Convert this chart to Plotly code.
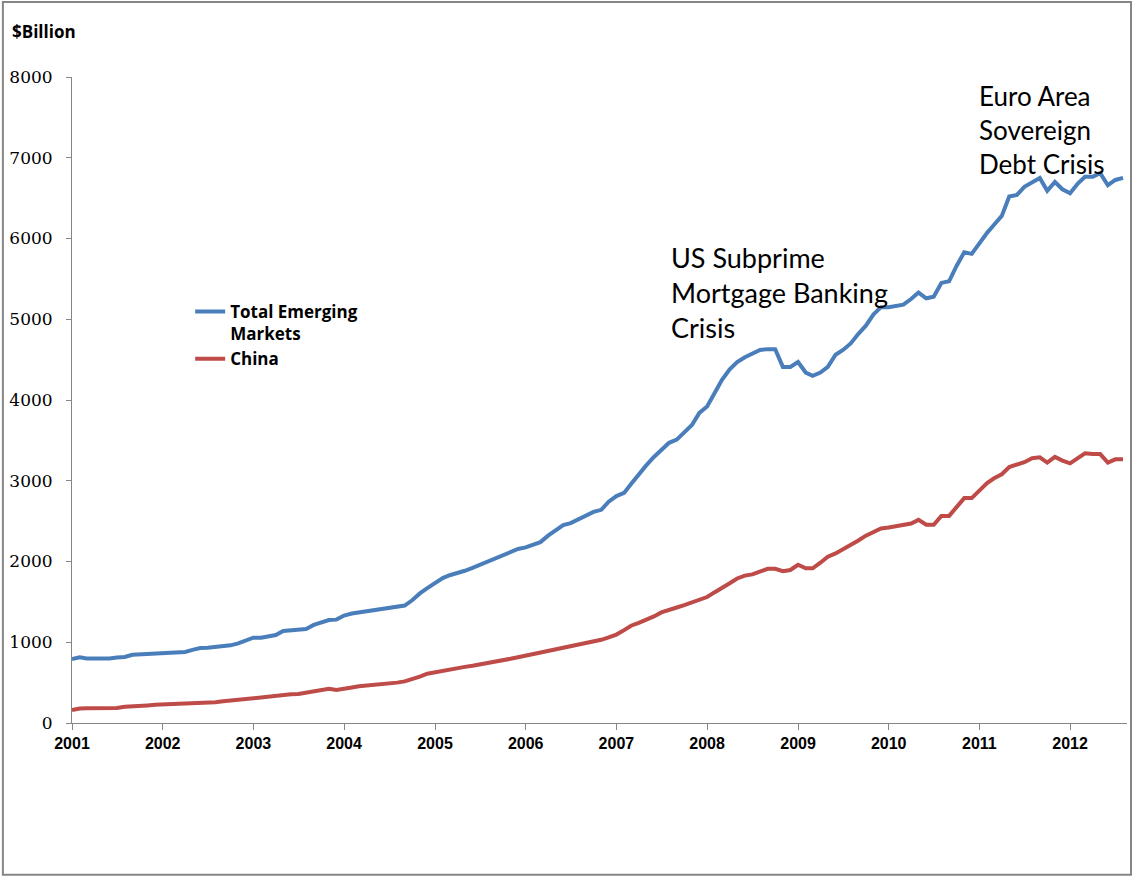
import pandas as pd
import plotly.graph_objects as go

# monthly, Jan 2001 - Aug 2012 ($ billion)
months = pd.date_range("2001-01-01", periods=140, freq="MS")

total_em = [
    793, 815, 800, 797, 797, 798, 812, 818, 845, 850, 850, 850,
    855, 868, 870, 880, 905, 928, 933, 940, 957, 962, 985, 1020,
    1057, 1057, 1070, 1090, 1140, 1150, 1155, 1165, 1215, 1250, 1275, 1280,
    1330, 1355, 1370, 1385, 1400, 1415, 1430, 1440, 1455, 1520, 1605, 1670,
    1740, 1795, 1830, 1855, 1885, 1920, 1960, 2000, 2045, 2080, 2120, 2155,
    2175, 2210, 2240, 2320, 2390, 2450, 2475, 2520, 2570, 2615, 2640, 2740,
    2810, 2850, 2960, 3080, 3190, 3295, 3380, 3470, 3510, 3600, 3690, 3840,
    3920, 4090, 4250, 4380, 4470, 4530, 4570, 4620, 4630, 4630, 4410, 4410,
    4470, 4340, 4300, 4340, 4410, 4560, 4620, 4700, 4820, 4920, 5060, 5150,
    5150, 5170, 5180, 5250, 5330, 5260, 5280, 5450, 5470, 5660, 5830, 5810,
    5950, 6070, 6170, 6280, 6520, 6540, 6640, 6700, 6750, 6590, 6700, 6610,
    6560, 6680, 6765, 6765, 6810, 6660, 6725, 6750,
]

china = [
    160, 180, 182, 182, 182, 183, 185, 200, 210, 212, 218, 225,
    228, 230, 232, 235, 240, 243, 245, 258, 268, 278, 288, 300,
    315, 318, 325, 340, 348, 355, 360, 375, 395, 415, 425, 410,
    420, 440, 455, 462, 470, 480, 492, 500, 515, 540, 575, 610,
    630, 645, 660, 680, 695, 710, 725, 745, 760, 778, 795, 815,
    835, 855, 875, 895, 915, 935, 950, 970, 985, 1005, 1030, 1060,
    1095, 1150, 1205, 1240, 1275, 1320, 1370, 1405, 1430, 1460, 1490, 1520,
    1560, 1620, 1670, 1730, 1790, 1825, 1840, 1870, 1910, 1910, 1880, 1895,
    1960, 1915, 1915, 1985, 2060, 2100, 2150, 2200, 2260, 2320, 2370, 2410,
    2420, 2440, 2455, 2470, 2515, 2455, 2455, 2565, 2565, 2680, 2785, 2785,
    2880, 2970, 3030, 3080, 3170, 3200, 3230, 3280, 3290, 3225, 3295, 3250,
    3215, 3280, 3340, 3330, 3330, 3225, 3265, 3265,
]

fig = go.Figure()
fig.add_trace(go.Scatter(x=months, y=total_em, name="Total Emerging<br>Markets",
                         mode="lines", line=dict(color="#4A7EBB", width=4)))
fig.add_trace(go.Scatter(x=months, y=china, name="China",
                         mode="lines", line=dict(color="#BE4B48", width=4)))

fig.update_layout(
    width=1135,
    height=878,
    margin=dict(l=72, r=8, t=77, b=155),
    plot_bgcolor="white",
    paper_bgcolor="white",
    legend=dict(
        x=0.112, y=0.664, xanchor="left", yanchor="top",
        valign="top", tracegroupgap=0,
        font=dict(family="Open Sans, sans-serif", size=17, color="black", weight="bold"),
        bgcolor="rgba(0,0,0,0)",
    ),
)

fig.update_xaxes(
    type="date",
    range=["2001-01-01", "2012-08-17"],
    tick0="2001-01-01", dtick="M12", tickformat="%Y",
    showgrid=False, showline=True, linecolor="#868686", linewidth=1,
    ticks="outside", ticklen=6, tickcolor="#868686",
    tickfont=dict(family="Liberation Sans, sans-serif", size=16, color="black", weight="bold"),
)
fig.update_yaxes(
    range=[0, 8000], dtick=1000,
    showgrid=False, zeroline=False, showline=True, linecolor="#868686", linewidth=1,
    ticks="outside", ticklen=5, tickcolor="#868686", ticklabelstandoff=10,
    tickfont=dict(family="DejaVu Serif, serif", size=17, color="black"),
)

fig.add_annotation(xref="paper", yref="paper", x=-0.059, y=1.071,
                   xanchor="left", yanchor="middle", showarrow=False,
                   text="<b>$Billion</b>",
                   font=dict(family="Open Sans, sans-serif", size=17, color="black"))
fig.add_annotation(xref="paper", yref="paper", x=0.566, y=0.750,
                   xanchor="left", yanchor="top", align="left", showarrow=False,
                   text="US Subprime<br>Mortgage Banking<br>Crisis",
                   font=dict(family="Lato, sans-serif", size=27, color="black"))
fig.add_annotation(xref="paper", yref="paper", x=0.858, y=0.998,
                   xanchor="left", yanchor="top", align="left", showarrow=False,
                   text="Euro Area<br>Sovereign<br>Debt Crisis",
                   font=dict(family="Lato, sans-serif", size=26, color="black"))

# outer frame of the chart area
fig.add_shape(type="rect", xref="paper", yref="paper",
              x0=-0.0655, x1=1.0038, y0=-0.235, y1=1.116,
              line=dict(color="#868686", width=2), fillcolor="rgba(0,0,0,0)")

# page body margin would shift the figure, drop it
fig.write_html("out.html", config={"displayModeBar": False},
               post_script="document.body.style.margin='0';")
